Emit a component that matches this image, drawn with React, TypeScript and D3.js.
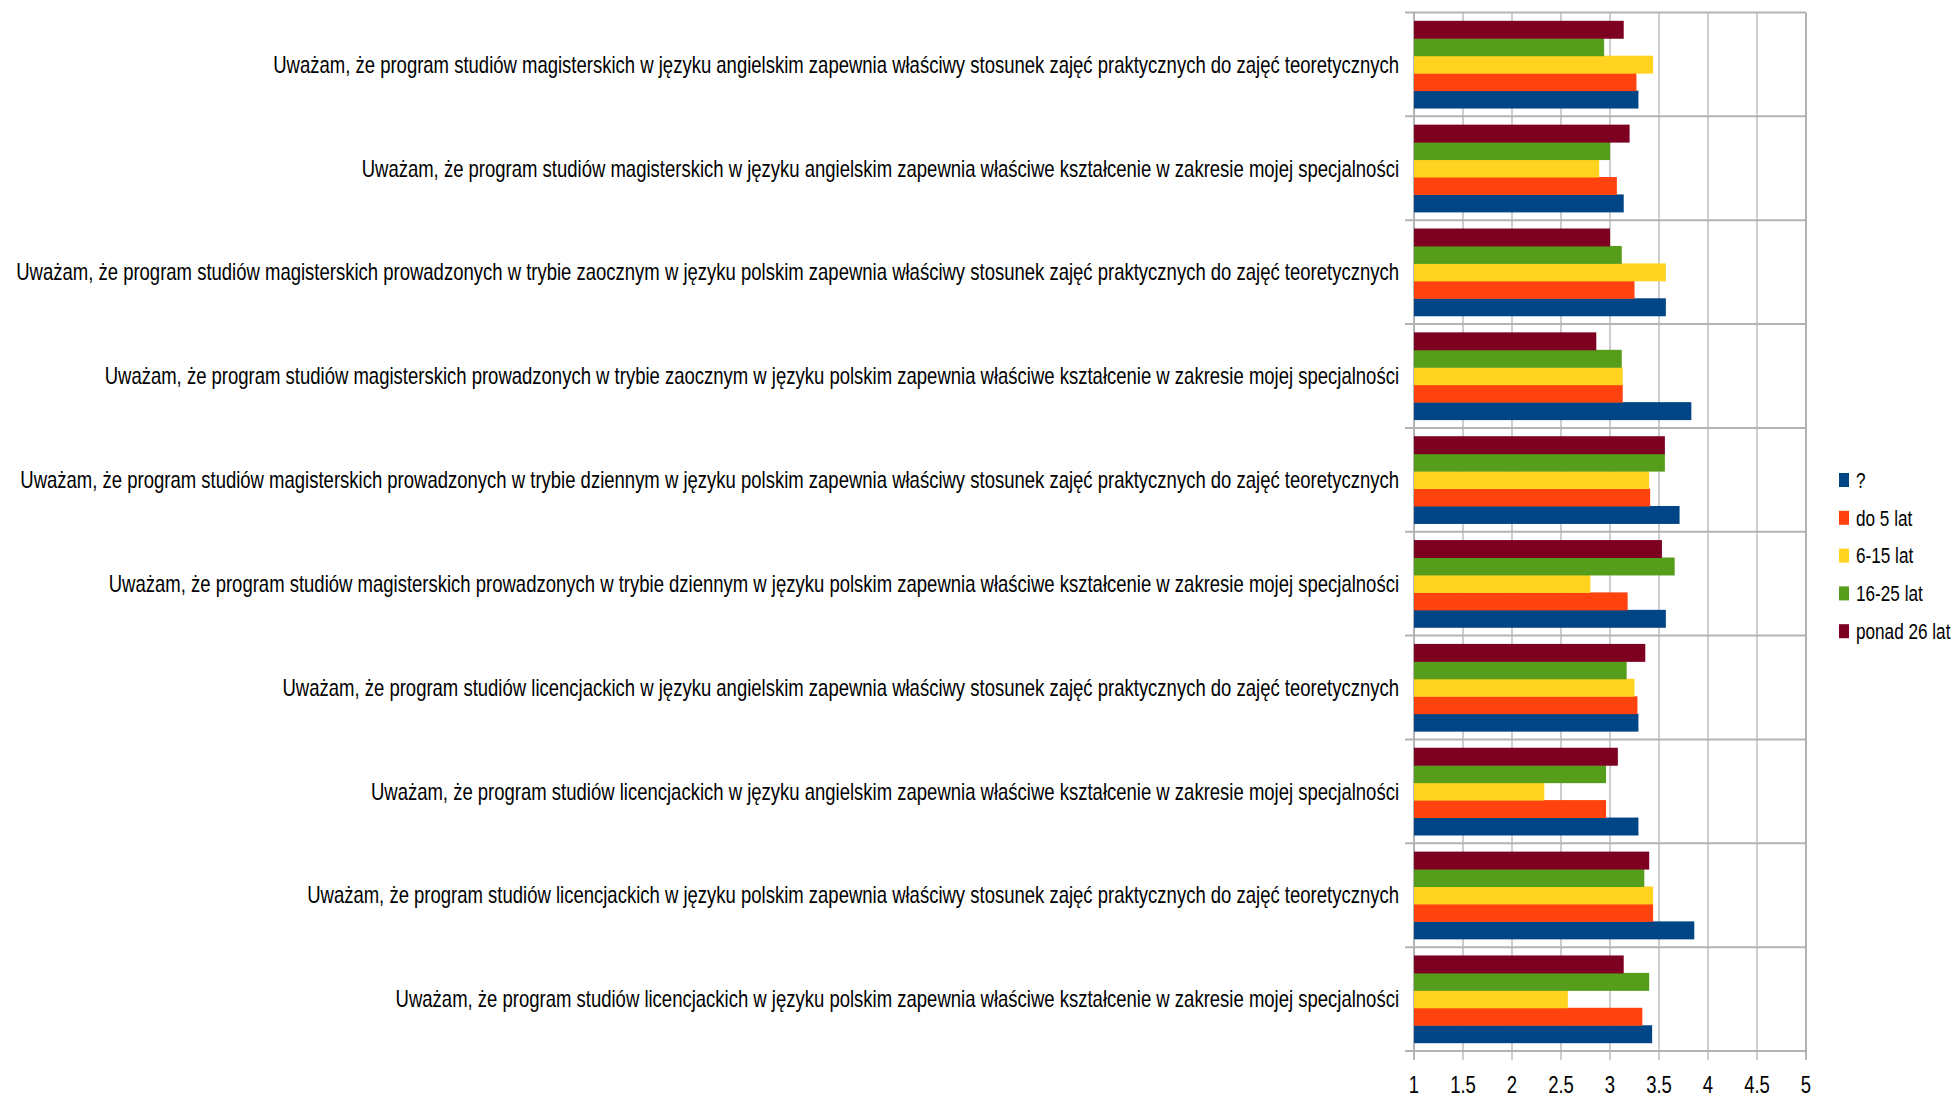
import React from "react";
import * as d3 from "d3";

const categories = [
  "Uważam, że program studiów magisterskich w języku angielskim zapewnia właściwy stosunek zajęć praktycznych do zajęć teoretycznych",
  "Uważam, że program studiów magisterskich w języku angielskim zapewnia właściwe kształcenie w zakresie mojej specjalności",
  "Uważam, że program studiów magisterskich prowadzonych w trybie zaocznym w języku polskim zapewnia właściwy stosunek zajęć praktycznych do zajęć teoretycznych",
  "Uważam, że program studiów magisterskich prowadzonych w trybie zaocznym w języku polskim zapewnia właściwe kształcenie w zakresie mojej specjalności",
  "Uważam, że program studiów magisterskich prowadzonych w trybie dziennym w języku polskim zapewnia właściwy stosunek zajęć praktycznych do zajęć teoretycznych",
  "Uważam, że program studiów magisterskich prowadzonych w trybie dziennym w języku polskim zapewnia właściwe kształcenie w zakresie mojej specjalności",
  "Uważam, że program studiów licencjackich w języku angielskim zapewnia właściwy stosunek zajęć praktycznych do zajęć teoretycznych",
  "Uważam, że program studiów licencjackich w języku angielskim zapewnia właściwe kształcenie w zakresie mojej specjalności",
  "Uważam, że program studiów licencjackich w języku polskim zapewnia właściwy stosunek zajęć praktycznych do zajęć teoretycznych",
  "Uważam, że program studiów licencjackich w języku polskim zapewnia właściwe kształcenie w zakresie mojej specjalności",
];

const seriesNames = ["?", "do 5 lat", "6-15 lat", "16-25 lat", "ponad 26 lat"];
const seriesColors = ["#004586", "#ff420e", "#ffd320", "#579d1c", "#7e0021"];

// one array per series, in category order (top to bottom)
const unknown = [3.29, 3.14, 3.57, 3.83, 3.71, 3.57, 3.29, 3.29, 3.86, 3.43];
const upTo5 = [3.27, 3.07, 3.25, 3.13, 3.41, 3.18, 3.28, 2.96, 3.44, 3.33];
const y6to15 = [3.44, 2.89, 3.57, 3.13, 3.4, 2.8, 3.25, 2.33, 3.44, 2.57];
const y16to25 = [2.94, 3.0, 3.12, 3.12, 3.56, 3.66, 3.17, 2.96, 3.35, 3.4];
const over26 = [3.14, 3.2, 3.0, 2.86, 3.56, 3.53, 3.36, 3.08, 3.4, 3.14];

const seriesValues = [unknown, upTo5, y6to15, y16to25, over26];

const xTicks = [1, 1.5, 2, 2.5, 3, 3.5, 4, 4.5, 5];

const W = 1958;
const H = 1097;
const left = 1414;
const right = 1806;
const top = 12.5;
const bottom = 1051;
// no narrow font installed, so squeeze Liberation Sans horizontally
const font = "'Liberation Sans', Arial, sans-serif";
const squeeze = 0.805;
const grid = "#b3b3b3";

export default function App() {
  const x = d3.scaleLinear().domain([1, 5]).range([left, right]);
  const y = d3
    .scaleBand()
    .domain(categories)
    .range([top, bottom])
    .paddingInner(0.16)
    .paddingOuter(0.08);
  // first series sits at the bottom of each group
  const inner = d3
    .scaleBand()
    .domain(d3.range(seriesNames.length).reverse().map(String))
    .range([0, y.bandwidth()]);
  const step = (bottom - top) / categories.length;
  const separators = d3.range(categories.length + 1).map((i) => top + i * step);

  return (
    <svg
      width={W}
      height={H}
      style={{ position: "absolute", left: 0, top: 0, background: "#fff" }}
      fontFamily={font}
    >
      <rect width={W} height={H} fill="#fff" />
      {/* vertical grid */}
      {xTicks.map((t) => (
        <line
          key={"g" + t}
          x1={x(t)}
          x2={x(t)}
          y1={top}
          y2={bottom + 9}
          stroke={grid}
          strokeWidth={t === 1 || t === 5 ? 2 : 1.3}
        />
      ))}
      {/* category separators */}
      {separators.map((s, i) => (
        <line
          key={"s" + i}
          x1={left - 9}
          x2={right}
          y1={s}
          y2={s}
          stroke={grid}
          strokeWidth={2}
        />
      ))}
      {/* bars */}
      {categories.map((c, ci) => (
        <g key={c} transform={`translate(0,${y(c)})`}>
          {seriesValues.map((vals, si) => (
            <rect
              key={si}
              x={x(1)}
              y={inner(String(si))}
              width={x(vals[ci]) - x(1)}
              height={inner.bandwidth() + 0.5}
              fill={seriesColors[si]}
            />
          ))}
        </g>
      ))}
      {/* category labels */}
      {categories.map((c) => (
        <g
          key={"l" + c}
          transform={`translate(${left - 15},${y(c)! + y.bandwidth() / 2}) scale(${squeeze},1)`}
        >
          <text textAnchor="end" dominantBaseline="central" fontSize={23} fill="#000">
            {c}
          </text>
        </g>
      ))}
      {/* x tick labels */}
      {xTicks.map((t) => (
        <g key={"t" + t} transform={`translate(${x(t)},1085) scale(${squeeze},1)`}>
          <text textAnchor="middle" dominantBaseline="central" fontSize={23} fill="#000">
            {d3.format("~g")(t)}
          </text>
        </g>
      ))}
      {/* legend */}
      {seriesNames.map((n, i) => (
        <g key={n} transform={`translate(1839,${480 + i * 37.8})`}>
          <rect x={0} y={-7} width={10} height={14} fill={seriesColors[i]} />
          <g transform={`translate(17,0) scale(0.78,1)`}>
            <text dominantBaseline="central" fontSize={22} fill="#000">
              {n}
            </text>
          </g>
        </g>
      ))}
    </svg>
  );
}
